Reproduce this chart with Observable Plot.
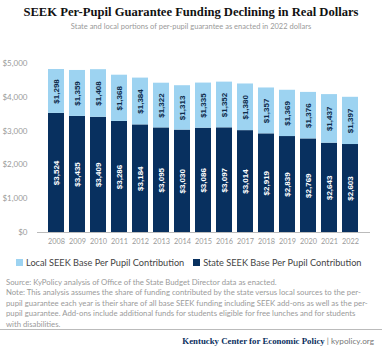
<!DOCTYPE html>
<html><head><meta charset="utf-8">
<script src="https://cdn.jsdelivr.net/npm/d3@7"></script>
<script src="https://cdn.jsdelivr.net/npm/@observablehq/plot@0.6"></script>
<style>
body{margin:0;background:#fff;width:382px;height:350px;position:relative;overflow:hidden;font-family:Lato,"Open Sans",sans-serif;}
div.abs{position:absolute;left:0;width:382px;}
#title{top:4px;font-family:"Liberation Serif",serif;font-weight:bold;font-size:12.6px;color:#111;text-align:center;line-height:16px;}
#sub{top:22px;font-size:7.5px;color:#9a9a9a;text-align:center;line-height:10px;}
#chart{top:35px;height:220px;}
#legend{top:257px;display:flex;font-size:9.2px;color:#444;padding-left:16px;line-height:12px;white-space:nowrap;}
#legend span.sw{display:inline-block;width:7px;height:7px;margin-right:3px;}
#legend .it{margin-right:9px;}
#notes{top:277px;font-size:7.75px;color:#9a9a9a;line-height:10.4px;padding-left:6px;white-space:nowrap;}
#rule{top:329px;border-top:1.5px solid #bbb;}
#foot{top:335px;text-align:right;font-size:8.2px;color:#777;line-height:12px;}
#foot span.in{padding-right:8px;}
#foot b{font-family:"Liberation Serif",serif;color:#0b2f5e;font-size:8.8px;}
</style></head>
<body>
<div id="title" class="abs">SEEK Per-Pupil Guarantee Funding Declining in Real Dollars</div>
<div id="sub" class="abs">State and local portions of per-pupil guarantee as enacted in 2022 dollars</div>
<div id="chart" class="abs"></div>
<div id="legend" class="abs"><div class="it"><span class="sw" style="background:#9dd3f1"></span>Local SEEK Base Per Pupil Contribution</div><div class="it"><span class="sw" style="background:#08305f"></span>State SEEK Base Per Pupil Contribution</div></div>
<div id="notes" class="abs">Source: KyPolicy analysis of Office of the State Budget Director data as enacted.<br>Note: This analysis assumes the share of funding contributed by the state versus local sources to the per-<br>pupil guarantee each year is their share of all base SEEK funding including SEEK add-ons as well as the per-<br>pupil guarantee. Add-ons include additional funds for students eligible for free lunches and for students<br>with disabilities.</div>
<div id="rule" class="abs"></div>
<div id="foot" class="abs"><span class="in"><b>Kentucky Center for Economic Policy</b> | kypolicy.org</span></div>
<script>
const years = ["2008","2009","2010","2011","2012","2013","2014","2015","2016","2017","2018","2019","2020","2021","2022"];
const stateValues = [3524,3435,3409,3286,3184,3095,3030,3086,3097,3014,2919,2839,2769,2643,2603];
const localValues = [1298,1359,1408,1368,1384,1322,1313,1335,1352,1380,1357,1369,1376,1437,1397];
const seriesNames = ["State SEEK Base Per Pupil Contribution","Local SEEK Base Per Pupil Contribution"];
const yTicks = [0,1000,2000,3000,4000,5000];

const data = [];
years.forEach((y,i)=>{
  data.push({year:y, type:seriesNames[0], value:stateValues[i]});
  data.push({year:y, type:seriesNames[1], value:localValues[i]});
});
const fmt = v => "$" + d3.format(",")(v);

const chart = Plot.plot({
  width:382, height:220,
  marginTop:28, marginBottom:23, marginLeft:37, marginRight:12,
  style:{fontFamily:"Lato, 'Open Sans', sans-serif", fontSize:"8px", color:"#9a9a9a"},
  x:{domain:years, padding:0.22, label:null},
  y:{domain:[0,5000], label:null},
  color:{domain:seriesNames, range:["#08305f","#9dd3f1"]},
  marks:[
    Plot.axisY({ticks:yTicks, tickFormat:fmt, tickSize:0, tickPadding:10, label:null, fontSize:8}),
    Plot.axisX({tickSize:0, tickPadding:6, label:null, fontSize:7.3}),
    Plot.barY(data, {x:"year", y:"value", fill:"type", order:seriesNames}),
    Plot.ruleY([0], {stroke:"#bbb", strokeWidth:1}),
    Plot.text(data, Plot.stackY({x:"year", y:"value", z:"type", order:seriesNames, text:d=>fmt(d.value), rotate:-90,
      fill:d=>d.type===seriesNames[0]?"#fff":"#0d2a4a", fontWeight:"bold", fontSize:8, fontFamily:"Arial, 'Liberation Sans', sans-serif"}))
  ]
});
document.getElementById("chart").appendChild(chart);
</script>
</body></html>
